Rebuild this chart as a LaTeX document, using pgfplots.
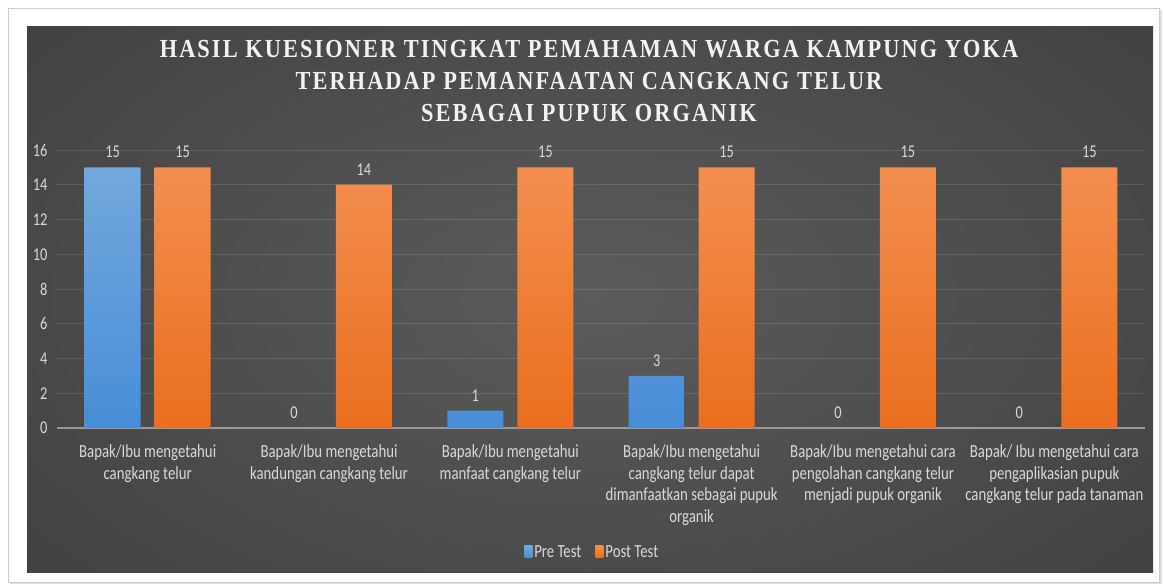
\documentclass[border=0pt]{standalone}
\usepackage{fontspec}
\setmainfont{Carlito}[FakeStretch=0.8]
\newfontfamily\titlefont{Liberation Serif}[FakeStretch=0.86, LetterSpace=8]
\usepackage{pgfplots}
\pgfplotsset{compat=1.18}
\definecolor{txt}{HTML}{D9D9D9}
\definecolor{ttl}{HTML}{F2F2F2}
\definecolor{bgin}{HTML}{5B5B5B}
\definecolor{bgout}{HTML}{2B2B2B}
\definecolor{bluetop}{HTML}{72A8DD}
\definecolor{bluebot}{HTML}{478ED8}
\definecolor{orgtop}{HTML}{F38E4F}
\definecolor{orgbot}{HTML}{EA6F1E}
\begin{document}
\begin{tikzpicture}
\path[use as bounding box, fill=white] (0,0) rectangle (1164bp,586bp);
\fill[black!12] (10bp,2bp) rectangle (1162bp,576bp);
\fill[white, draw=black!20, line width=0.6bp] (8bp,4bp) rectangle (1159bp,578bp);
\begin{scope}
\clip (27bp,13bp) rectangle (1153bp,559bp);
\fill[bgout] (27bp,13bp) rectangle (1153bp,559bp);
\shade[inner color=bgin, outer color=bgout] (590bp,290bp) ellipse [x radius=1400bp, y radius=800bp];
\end{scope}
\node[text=ttl, align=center, font=\titlefont\bfseries\fontsize{26bp}{32bp}\selectfont] at (589bp,505bp)
  {HASIL KUESIONER TINGKAT PEMAHAMAN WARGA KAMPUNG YOKA\\TERHADAP PEMANFAATAN CANGKANG TELUR\\SEBAGAI PUPUK ORGANIK};
\begin{axis}[
  at={(57bp,158bp)}, anchor=south west,
  scale only axis, width=1088bp, height=278bp,
  xmin=-0.5, xmax=5.5, ymin=0, ymax=16,
  ytick={0,2,...,16},
  xtick={0,...,5},
  /pgf/number format/assume math mode=true,
  xticklabels={{Bapak/Ibu mengetahui\\cangkang telur},
    {Bapak/Ibu mengetahui\\kandungan cangkang telur},
    {Bapak/Ibu mengetahui\\manfaat cangkang telur},
    {Bapak/Ibu mengetahui\\cangkang telur dapat\\dimanfaatkan sebagai pupuk\\organik},
    {Bapak/Ibu mengetahui cara\\pengolahan cangkang telur\\menjadi pupuk organik},
    {Bapak/ Ibu mengetahui cara\\pengaplikasian pupuk\\cangkang telur pada tanaman}},
  xticklabel style={align=center, text=txt, font=\fontsize{18.5bp}{21.7bp}\selectfont, yshift=-13bp},
  yticklabel style={text=txt, font=\fontsize{18bp}{20bp}\selectfont, xshift=-6bp},
  axis x line*=bottom, axis y line*=left,
  y axis line style={draw=none},
  x axis line style={draw=black!40, line width=1.5bp, -},
  major tick length=0pt,
  ymajorgrids, grid style={draw=white, opacity=0.12, line width=0.9bp},
  bar width=56bp,
  nodes near coords,
  every node near coord/.append style={text=txt, font=\fontsize{18bp}{20bp}\selectfont, yshift=6bp},
  legend style={at={(0.492,-0.446)}, anchor=center, draw=none, fill=none, text=txt,
    font=\fontsize{18.5bp}{20bp}\selectfont, legend columns=2,
    /tikz/every even column/.append style={column sep=12bp}},
  legend image code/.code={\fill[#1] (0bp,-6bp) rectangle (8bp,6bp);},
]
\addplot[ybar, bar shift=-35bp, draw=none, top color=bluetop, bottom color=bluebot,
  every node near coord/.append style={xshift=-35bp}]
  coordinates {(0,15) (2,1) (3,3)};
\addlegendentry{Pre Test}
\addplot[ybar, bar shift=35bp, draw=none, top color=orgtop, bottom color=orgbot,
  every node near coord/.append style={xshift=35bp}]
  coordinates {(0,15) (1,14) (2,15) (3,15) (4,15) (5,15)};
\addlegendentry{Post Test}
\addplot[ybar, bar shift=-35bp, draw=none, fill=none, forget plot,
  every node near coord/.append style={xshift=-35bp}]
  coordinates {(1,0) (4,0) (5,0)};
\end{axis}
\end{tikzpicture}
\end{document}
